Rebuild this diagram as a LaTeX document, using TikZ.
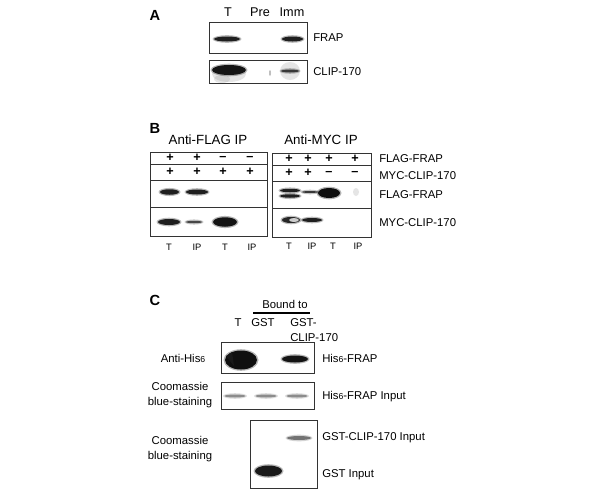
\documentclass[tikz,border=0pt]{standalone}
\usepackage{fontspec}
\setmainfont{Liberation Sans}
\newcommand\myband[5]{%
  \fill[black!#5, opacity=0.3] (#1,#2) ellipse [x radius={#3/2+1.5}, y radius={#4/2+1.3}];
  \fill[black!#5] (#1,#2) ellipse [x radius={#3/2}, y radius={#4/2}];
}
\newcommand\hsix{His{\fontsize{6.5}{8}\selectfont 6}}
\begin{document}
\begin{tikzpicture}[x=0.75pt,y=-0.75pt,
  frame/.style={draw=black!80, line width=0.7pt},
  lbl/.style={font=\fontsize{8.5}{10}\selectfont, inner sep=0pt},
  ttl/.style={font=\fontsize{10}{12}\selectfont, inner sep=0pt},
  top/.style={font=\fontsize{9.5}{11}\selectfont, inner sep=0pt},
  lane/.style={font=\fontsize{7}{8}\selectfont, inner sep=0pt},
  letter/.style={font=\bfseries\fontsize{11}{13}\selectfont, inner sep=0pt},
  sgn/.style={font=\bfseries\fontsize{9.5}{10}\selectfont, inner sep=0pt},
  smear/.style={fill=black!40, opacity=0.25}]
\useasboundingbox[fill=white] (0,0) rectangle (600,493);

% ---------------- Panel A ----------------
\node[letter] (lA) at (155,15) {A};
\node[top] (aT) at (228,12) {T};
\node[top] (aPre) at (260,12) {Pre};
\node[top] (aImm) at (292,12) {Imm};
\draw[frame] (209,22) rectangle (307,53);
\draw[frame] (209,60) rectangle (307,83);
\node[lbl, anchor=west] (aFRAP) at (313,38) {FRAP};
\node[lbl, anchor=west] (aCLIP) at (313,72) {CLIP-170};
\myband{227}{39}{26}{5}{88}
\myband{292.5}{39}{21}{5}{88}
\fill[smear] (229,74) ellipse [x radius=17, y radius=8];
\fill[smear] (222,79) ellipse [x radius=8, y radius=4];
\myband{229}{70}{34}{10}{92}
\fill[smear] (290,71) ellipse [x radius=10, y radius=9];
\myband{290}{71}{18}{3}{78}
\fill[black!25] (270,73) ellipse [x radius=1, y radius=3];

% ---------------- Panel B ----------------
\node[letter] (lB) at (155,128) {B};
\node[ttl] (flagIP) at (208,140) {Anti-FLAG IP};
\node[ttl] (mycIP) at (321,140) {Anti-MYC IP};
% left box
\draw[frame] (150,152) rectangle (267,236);
\draw[frame] (150,164) -- (267,164);
\draw[frame] (150,180) -- (267,180);
\draw[frame] (150,207) -- (267,207);
\node[sgn] at (170,158) {+};
\node[sgn] at (197,158) {+};
\node[sgn] at (223,158) {--};
\node[sgn] at (250,158) {--};
\node[sgn] at (170,172) {+};
\node[sgn] at (197,172) {+};
\node[sgn] at (223,172) {+};
\node[sgn] at (250,172) {+};
\myband{169.5}{192}{19}{5.5}{88}
\myband{197}{192}{22}{5}{88}
\myband{169}{222}{22}{6}{88}
\myband{194}{222}{16}{2.5}{72}
\myband{225}{222}{24}{9.5}{92}
\node[lane] at (169,247) {T};
\node[lane] at (197,247) {IP};
\node[lane] at (225,247) {T};
\node[lane] at (252,247) {IP};
% right box
\draw[frame] (272,153) rectangle (371,237);
\draw[frame] (272,165) -- (371,165);
\draw[frame] (272,181) -- (371,181);
\draw[frame] (272,208) -- (371,208);
\node[sgn] at (289,159) {+};
\node[sgn] at (308,159) {+};
\node[sgn] at (329,159) {+};
\node[sgn] at (355,159) {+};
\node[sgn] at (289,173) {+};
\node[sgn] at (308,173) {+};
\node[sgn] at (329,173) {--};
\node[sgn] at (355,173) {--};
\myband{290}{190.5}{20}{3.5}{88}
\myband{290}{196}{20}{3.5}{88}
\myband{310}{192}{16}{2}{78}
\myband{329}{193}{22}{10}{94}
\fill[black!10] (356,192) ellipse [x radius=3, y radius=4];
\myband{291}{220}{18}{6}{85}
\fill[black!20] (294,220) ellipse [x radius=5, y radius=2];
\myband{312}{220}{20}{4}{88}
\node[lane] at (289,246) {T};
\node[lane] at (312,246) {IP};
\node[lane] at (333,246) {T};
\node[lane] at (358,246) {IP};
% right labels
\node[lbl, anchor=west] (bl1) at (379,159) {FLAG-FRAP};
\node[lbl, anchor=west] (bl2) at (379,176) {MYC-CLIP-170};
\node[lbl, anchor=west] (bl3) at (379,195) {FLAG-FRAP};
\node[lbl, anchor=west] (bl4) at (379,223) {MYC-CLIP-170};

% ---------------- Panel C ----------------
\node[letter] (lC) at (155,300) {C};
\node[lbl] (bound) at (285,304) {Bound to};
\draw[line width=1.2pt] (253,313) -- (310,313);
\node[lbl] (cT) at (238,323) {T};
\node[lbl] (cGST) at (263,323) {GST};
\node[lbl, anchor=north west, align=left, font=\fontsize{8.5}{11.5}\selectfont] (cGC) at (290,318) {GST-\\CLIP-170};
\draw[frame] (221,342) rectangle (314,373);
\draw[frame] (221,382) rectangle (314,409);
\draw[frame] (250,420) rectangle (317,488);
\myband{241}{360}{32}{19}{94}
\fill[black!90] (226,356) -- (232,352) -- (234,366) -- cycle;
\myband{295}{359}{26}{7}{92}
\myband{235}{396}{21}{3}{45}
\myband{266}{396}{21}{3}{45}
\myband{297}{396}{21}{3}{45}
\myband{299}{438}{24}{4}{55}
\myband{268.5}{471}{27}{11}{90}
\node[lbl] (cAH) at (183,358) {Anti-\hsix};
\node[lbl, align=center, font=\fontsize{8.5}{11}\selectfont] (cCB1) at (180,395) {Coomassie\\blue-staining};
\node[lbl, align=center, font=\fontsize{8.5}{11}\selectfont] (cCB2) at (180,449) {Coomassie\\blue-staining};
\node[lbl, anchor=west] (cr1) at (322,358) {\hsix-FRAP};
\node[lbl, anchor=west] (cr2) at (322,397) {\hsix-FRAP Input};
\node[lbl, anchor=west] (cr3) at (322,438) {GST-CLIP-170 Input};
\node[lbl, anchor=west] (cr4) at (322,475) {GST Input};
\end{tikzpicture}
\end{document}
